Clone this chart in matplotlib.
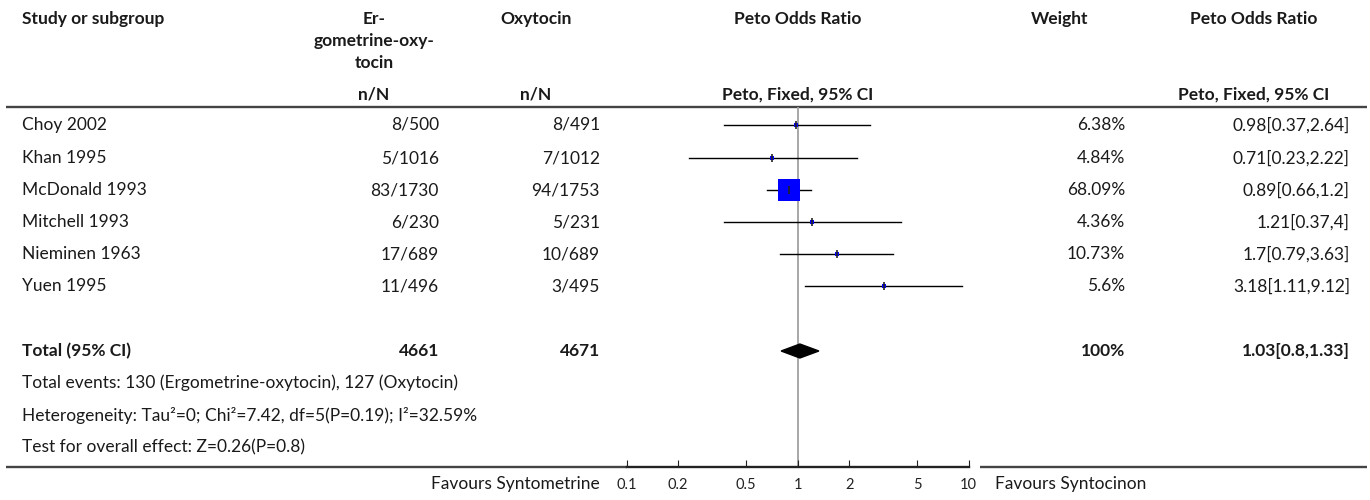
import matplotlib.pyplot as plt
import numpy as np

plt.rcParams['font.family'] = ['Lato', 'DejaVu Sans']

# data
studies = ["Choy 2002", "Khan 1995", "McDonald 1993", "Mitchell 1993", "Nieminen 1963", "Yuen 1995"]
ergo_nN = ["8/500", "5/1016", "83/1730", "6/230", "17/689", "11/496"]
oxy_nN = ["8/491", "7/1012", "94/1753", "5/231", "10/689", "3/495"]
odds = [0.98, 0.71, 0.89, 1.21, 1.7, 3.18]
ci_low = [0.37, 0.23, 0.66, 0.37, 0.79, 1.11]
ci_high = [2.64, 2.22, 1.2, 4, 3.63, 9.12]
weights = [6.38, 4.84, 68.09, 4.36, 10.73, 5.6]
weight_labels = ["6.38%", "4.84%", "68.09%", "4.36%", "10.73%", "5.6%"]
ci_labels = ["0.98[0.37,2.64]", "0.71[0.23,2.22]", "0.89[0.66,1.2]",
             "1.21[0.37,4]", "1.7[0.79,3.63]", "3.18[1.11,9.12]"]
total_ergo, total_oxy = "4661", "4671"
total_or, total_low, total_high = 1.03, 0.8, 1.33
xticks = [0.1, 0.2, 0.5, 1, 2, 5, 10]
xtick_labels = ["0.1", "0.2", "0.5", "1", "2", "5", "10"]

W, H = 1370, 500
fig = plt.figure(figsize=(W / 100, H / 100), dpi=100)
ax = fig.add_axes([0, 0, 1, 1])
ax.set_xlim(0, W)
ax.set_ylim(H, 0)
ax.axis("off")

fs = 12.5
txt = dict(fontsize=fs, color="#1a1a1a", va="center")
bold = dict(txt, fontweight="bold")

# column anchors (pixels)
c_study = 22
c_ergo_mid, c_ergo_r = 374, 439
c_oxy_mid, c_oxy_r = 536, 600
c_plot_mid = 798
c_w_mid, c_w_r = 1060, 1125
c_ci_mid, c_ci_r = 1254, 1350

# headers
ax.text(c_study, 19, "Study or subgroup", ha="left", **bold)
ax.text(c_ergo_mid, 19, "Er-", ha="center", **bold)
ax.text(c_ergo_mid, 41, "gometrine-oxy-", ha="center", **bold)
ax.text(c_ergo_mid, 63, "tocin", ha="center", **bold)
ax.text(c_oxy_mid, 19, "Oxytocin", ha="center", **bold)
ax.text(c_plot_mid, 19, "Peto Odds Ratio", ha="center", **bold)
ax.text(c_w_mid, 19, "Weight", ha="center", **bold)
ax.text(c_ci_mid, 19, "Peto Odds Ratio", ha="center", **bold)
ax.text(c_ergo_mid, 95, "n/N", ha="center", **bold)
ax.text(c_oxy_mid, 95, "n/N", ha="center", **bold)
ax.text(c_plot_mid, 95, "Peto, Fixed, 95% CI", ha="center", **bold)
ax.text(c_ci_mid, 95, "Peto, Fixed, 95% CI", ha="center", **bold)

line_kw = dict(color="#444444", lw=1.7, solid_capstyle="butt")
ax.plot([6, 1367], [107, 107], **line_kw)
ax.plot([6, 627], [467, 467], **line_kw)
ax.plot([980, 1367], [467, 467], **line_kw)

row_y = [125, 158, 190, 222, 254, 286]
for i, y in enumerate(row_y):
    ax.text(c_study, y, studies[i], ha="left", **txt)
    ax.text(c_ergo_r, y, ergo_nN[i], ha="right", **txt)
    ax.text(c_oxy_r, y, oxy_nN[i], ha="right", **txt)
    ax.text(c_w_r, y, weight_labels[i], ha="right", **txt)
    ax.text(c_ci_r, y, ci_labels[i], ha="right", **txt)

ax.text(c_study, 351, "Total (95% CI)", ha="left", **bold)
ax.text(c_ergo_r, 351, total_ergo, ha="right", **bold)
ax.text(c_oxy_r, 351, total_oxy, ha="right", **bold)
ax.text(c_w_r, 351, "100%", ha="right", **bold)
ax.text(c_ci_r, 351, "%g[%g,%g]" % (total_or, total_low, total_high), ha="right", **bold)
ax.text(c_study, 383, "Total events: 130 (Ergometrine-oxytocin), 127 (Oxytocin)", ha="left", **txt)
ax.text(c_study, 415, "Heterogeneity: Tau²=0; Chi²=7.42, df=5(P=0.19); I²=32.59%", ha="left", **txt)
ax.text(c_study, 447, "Test for overall effect: Z=0.26(P=0.8)", ha="left", **txt)
ax.text(600, 484, "Favours Syntometrine", ha="right", **txt)
ax.text(995, 484, "Favours Syntocinon", ha="left", **txt)

# forest panel
x0, x1 = 626.7, 968.7
y_top, y_bot = 107, 467
fax = fig.add_axes([x0 / W, (H - y_bot) / H, (x1 - x0) / W, (y_bot - y_top) / H])
fax.set_xscale("log")
fax.set_xlim(0.1, 10)
fax.set_ylim(y_bot, y_top)
fax.patch.set_alpha(0)
for s in ["top", "left", "right"]:
    fax.spines[s].set_visible(False)
fax.spines["bottom"].set_linewidth(1.7)
fax.spines["bottom"].set_color("#222222")
fax.set_yticks([])
fax.set_xticks(xticks)
fax.set_xticklabels(xtick_labels)
fax.minorticks_off()
fax.tick_params(axis="x", direction="in", length=5, width=0.8, labelsize=10.5, pad=8,
                colors="#222222")

fax.plot([1, 1], [y_top, y_bot], color="#a0a0a0", lw=1.3, zorder=1)

max_w = max(weights)
for i, y in enumerate(row_y):
    fax.plot([ci_low[i], ci_high[i]], [y, y], color="black", lw=1, zorder=2)
    side_px = max(4, 22 * weights[i] / max_w)
    fax.plot(odds[i], y, marker="s", markersize=side_px * 0.72, color="#0000ff",
             markeredgewidth=0, zorder=3)
    fax.plot(odds[i], y, marker="|", markersize=6, color="#222222",
             markeredgewidth=1.2, zorder=4)

dia_y, dia_h = 351, 7
fax.fill([total_low, total_or, total_high, total_or],
         [dia_y, dia_y - dia_h, dia_y, dia_y + dia_h], color="black", zorder=3)

fig.savefig("out.png", dpi=100)
